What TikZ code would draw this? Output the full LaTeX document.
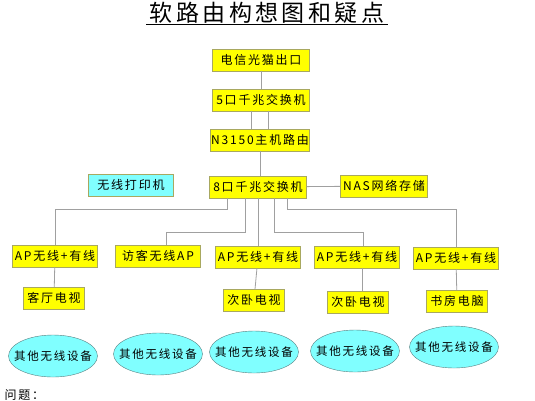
\documentclass[tikz,border=0pt]{standalone}
\usepackage{fontspec}
\setmainfont{Noto Sans CJK SC}[LetterSpace=15]
\usetikzlibrary{shapes.geometric}
\definecolor{boxyellow}{HTML}{FFFF00}
\definecolor{boxedge}{HTML}{A8A860}
\definecolor{skyfill}{HTML}{80FFFF}
\definecolor{skyedge}{HTML}{5A7F80}
\definecolor{wiregray}{HTML}{A0A0A0}

\begin{document}
\begin{tikzpicture}[x=1pt,y=-1pt,
    ybox/.style={draw=boxedge, fill=boxyellow, font=\fontsize{12}{13}\selectfont, minimum height=22pt, inner sep=0.5pt},
    cbox/.style={draw=boxedge, fill=skyfill, font=\fontsize{12}{13}\selectfont, minimum height=22pt, inner sep=0.5pt},
    oval/.style={ellipse, draw=skyedge, fill=skyfill, minimum width=89pt, minimum height=42pt, inner sep=0pt,
        label={[font=\fontsize{11.5}{13}\selectfont]center:#1}},
    wire/.style={draw=wiregray, line width=0.8pt}]
    \useasboundingbox (0,0) rectangle (535,400);

    \node[font=\fontsize{23}{25}\selectfont] (title) at (267,13) {软路由构想图和疑点};
    \draw[line width=0.8pt] ([yshift=-3pt]title.base west) -- ([yshift=-3pt]title.base east);

    \node[ybox, minimum width=97pt] (modem) at (261,60) {电信光猫出口};
    \node[ybox, minimum width=97pt] (sw5) at (261,100) {5口千兆交换机};
    \node[ybox, minimum width=97pt] (host) at (260,140) {N3150主机路由};
    \node[ybox, minimum width=97pt] (sw8) at (258,187) {8口千兆交换机};
    \node[cbox, minimum width=85pt] (printer) at (131,185) {无线打印机};
    \node[ybox, minimum width=87pt] (nas) at (384,186) {NAS网络存储};

    \node[ybox, minimum width=85pt] (ap1) at (55,256) {AP无线+有线};
    \node[ybox, minimum width=85pt] (guest) at (158,256) {访客无线AP};
    \node[ybox, minimum width=85pt] (ap3) at (258,257) {AP无线+有线};
    \node[ybox, minimum width=85pt] (ap4) at (357,257) {AP无线+有线};
    \node[ybox, minimum width=85pt] (ap5) at (456,258) {AP无线+有线};

    \node[ybox, minimum width=61pt] (tv1) at (54,298) {客厅电视};
    \node[ybox, minimum width=61pt] (tv2) at (254,300) {次卧电视};
    \node[ybox, minimum width=61pt] (tv3) at (358,302) {次卧电视};
    \node[ybox, minimum width=61pt] (pc) at (457,301) {书房电脑};

    \node[oval=其他无线设备] (dev1) at (53,356) {};
    \node[oval=其他无线设备] (dev2) at (158,354) {};
    \node[oval=其他无线设备] (dev3) at (254,352) {};
    \node[oval=其他无线设备] (dev4) at (355,351) {};
    \node[oval=其他无线设备] (dev5) at (454,347) {};

    \node[anchor=west, font=\fontsize{12}{13}\selectfont] (question) at (1,395) {问题：};

    \draw[wire] (modem) -- (sw5);
    \draw[wire] ([xshift=-10pt]sw5.south) -- ([xshift=-10pt]sw5.south |- host.north);
    \draw[wire] ([xshift=7pt]sw5.south) -- ([xshift=7pt]sw5.south |- host.north);
    \draw[wire] (host.south) -- (host.south |- sw8.north);
    \draw[wire] (sw8) -- (nas);

    \draw[wire] ([xshift=-31pt]sw8.south) -- ++(0,11) -| (ap1.north);
    \draw[wire] ([xshift=-13pt]sw8.south) -- ++(0,34) -| ([xshift=8pt]guest.north);
    \draw[wire] (sw8.south) -- (sw8.south |- ap3.north);
    \draw[wire] ([xshift=16pt]sw8.south) -- ++(0,34) -| ([xshift=6pt]ap4.north);
    \draw[wire] ([xshift=29pt]sw8.south) -- ++(0,11) -| (ap5.north);

    \draw[wire] (ap1) -- (tv1);
    \draw[wire] (ap3) -- (tv2);
    \draw[wire] ([xshift=5pt]ap4.south) -- ([xshift=5pt]ap4.south |- tv3.north);
    \draw[wire] (ap5) -- (pc);
\end{tikzpicture}
\end{document}
